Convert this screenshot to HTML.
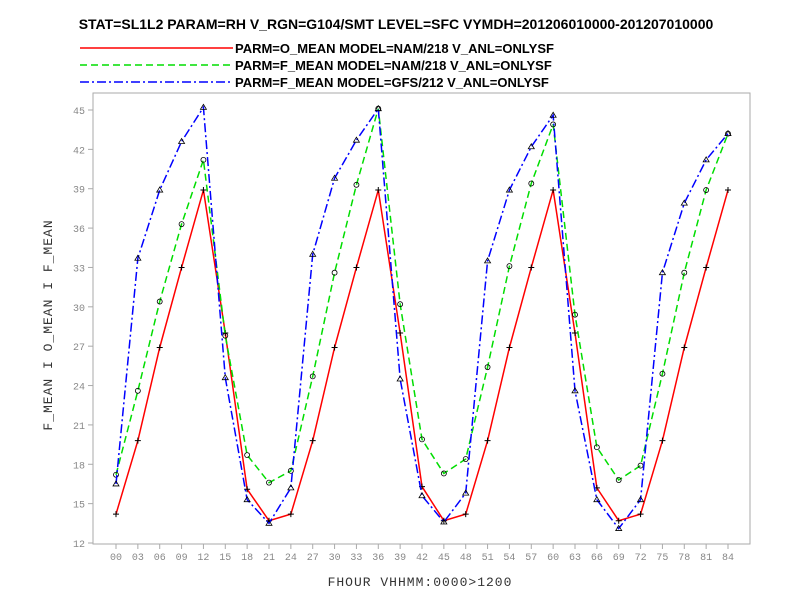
<!DOCTYPE html>
<html><head><meta charset="utf-8"><style>
body{margin:0;background:#fff}
svg{display:block;font-family:"Liberation Mono","DejaVu Sans Mono",monospace}
</style></head><body>
<svg id="chart" width="792" height="612" viewBox="0 0 792 612" xmlns="http://www.w3.org/2000/svg">
<text x="396" y="29" text-anchor="middle" font-family="Liberation Sans, sans-serif" font-weight="bold" font-size="14">STAT=SL1L2 PARAM=RH V_RGN=G104/SMT LEVEL=SFC VYMDH=201206010000-201207010000</text>
<g id="legend"></g>
<rect x="93" y="93" width="657" height="451" fill="none" stroke="#aaa" stroke-width="1"/>
<g id="axes"></g>
<g id="series"></g>
<text x="420" y="586" text-anchor="middle" font-size="13" fill="#333" letter-spacing="1">FHOUR VHHMM:0000&gt;1200</text>
<text x="52" y="325" text-anchor="middle" font-size="13" fill="#333" letter-spacing="1" transform="rotate(-90 52 325)">F_MEAN I O_MEAN I F_MEAN</text>
</svg>
<script>
const hours = ["00","03","06","09","12","15","18","21","24","27","30","33","36","39","42","45","48","51","54","57","60","63","66","69","72","75","78","81","84"];
const yTicks = [12,15,18,21,24,27,30,33,36,39,42,45];
const oMeanNam = [14.2,19.8,26.9,33,38.9,28,16.1,13.7,14.2,19.8,26.9,33,38.9,28,16.3,13.7,14.2,19.8,26.9,33,38.9,28,16.2,13.7,14.2,19.8,26.9,33,38.9];
const fMeanNam = [17.2,23.6,30.4,36.3,41.2,27.8,18.7,16.6,17.5,24.7,32.6,39.3,45.1,30.2,19.9,17.3,18.4,25.4,33.1,39.4,43.9,29.4,19.3,16.8,17.9,24.9,32.6,38.9,43.2];
const fMeanGfs = [16.5,33.7,38.9,42.6,45.2,24.6,15.3,13.5,16.2,34,39.8,42.7,45.1,24.5,15.6,13.6,15.8,33.5,38.9,42.2,44.6,23.6,15.3,13.1,15.3,32.6,37.9,41.2,43.2];
const legendLabels = ["PARM=O_MEAN MODEL=NAM/218 V_ANL=ONLYSF","PARM=F_MEAN MODEL=NAM/218 V_ANL=ONLYSF","PARM=F_MEAN MODEL=GFS/212 V_ANL=ONLYSF"];

const NS="http://www.w3.org/2000/svg";
const x=i=>116+i*(728-116)/28;
const y=v=>543-(v-12)*(543-110)/33;
function mk(t,a,p){const e=document.createElementNS(NS,t);for(const k in a)e.setAttribute(k,a[k]);p.appendChild(e);return e;}
const axes=document.getElementById('axes');
hours.forEach((h,i)=>{
  const t=mk('line',{x1:x(i),x2:x(i),y1:544,y2:549,stroke:'#aaa'},axes);
  
  
  const l=mk('text',{x:x(i),y:560,'text-anchor':'middle','font-size':'10',fill:'#888'},axes);
  
  
  l.textContent=h;
});
yTicks.forEach(v=>{
  const t=mk('line',{x1:88,x2:93,y1:y(v),y2:y(v),stroke:'#aaa'},axes);
  
  
  const l=mk('text',{x:85,y:y(v)+4,'text-anchor':'end','font-size':'10',fill:'#888'},axes);
  
  
  l.textContent=v;
});
const styles=[{c:'#f00',d:'',m:'plus'},{c:'#0d0',d:'7,4',m:'circle'},{c:'#00f',d:'9,3,2,3',m:'tri'}];
const data=[oMeanNam,fMeanNam,fMeanGfs];
const names=['o-mean-nam-line','f-mean-nam-line','f-mean-gfs-line'];
const sg=document.getElementById('series');
function marker(px,py,m,g){
  let e;
  if(m==='plus'){e=mk('path',{d:`M${px-3},${py}H${px+3}M${px},${py-3}V${py+3}`,stroke:'#000','stroke-width':1},g);}
  else if(m==='circle'){e=mk('circle',{cx:px,cy:py,r:2.5,fill:'none',stroke:'#000','stroke-width':0.8},g);}
  else {e=mk('path',{d:`M${px},${py-3}L${px+3},${py+2}L${px-3},${py+2}Z`,fill:'none',stroke:'#000','stroke-width':0.8},g);}
  
  
}
data.forEach((arr,s)=>{
  const st=styles[s];
  const p=mk('polyline',{points:arr.map((v,i)=>x(i)+','+y(v)).join(' '),fill:'none',stroke:st.c,'stroke-width':1.5,'stroke-dasharray':st.d},sg);
  
  
  arr.forEach((v,i)=>marker(x(i),y(v),st.m,sg));
});
const lg=document.getElementById('legend');
legendLabels.forEach((t,k)=>{
  const st=styles[k];const ly=48+k*17;
  const l=mk('line',{x1:80,x2:460,y1:ly,y2:ly,stroke:st.c,'stroke-width':1.5,'stroke-dasharray':st.d},lg);
  
  
  marker(270,ly,st.m,lg);
  const tx=mk('text',{x:235,y:ly+5,'font-family':'Liberation Sans, sans-serif','font-weight':'bold','font-size':'13'},lg);
  
  
  tx.textContent=t;
  tx.setAttribute('x',235);
});
// legend text sits over line; add white bg behind text
[...lg.querySelectorAll('text')].forEach(tx=>{
  const b=tx.getBBox();
  const r=document.createElementNS(NS,'rect');
  r.setAttribute('x',b.x-2);r.setAttribute('y',b.y);r.setAttribute('width',b.width+4);r.setAttribute('height',b.height);r.setAttribute('fill','#fff');
  
  
  lg.insertBefore(r,tx);
});
</script>
</body></html>
